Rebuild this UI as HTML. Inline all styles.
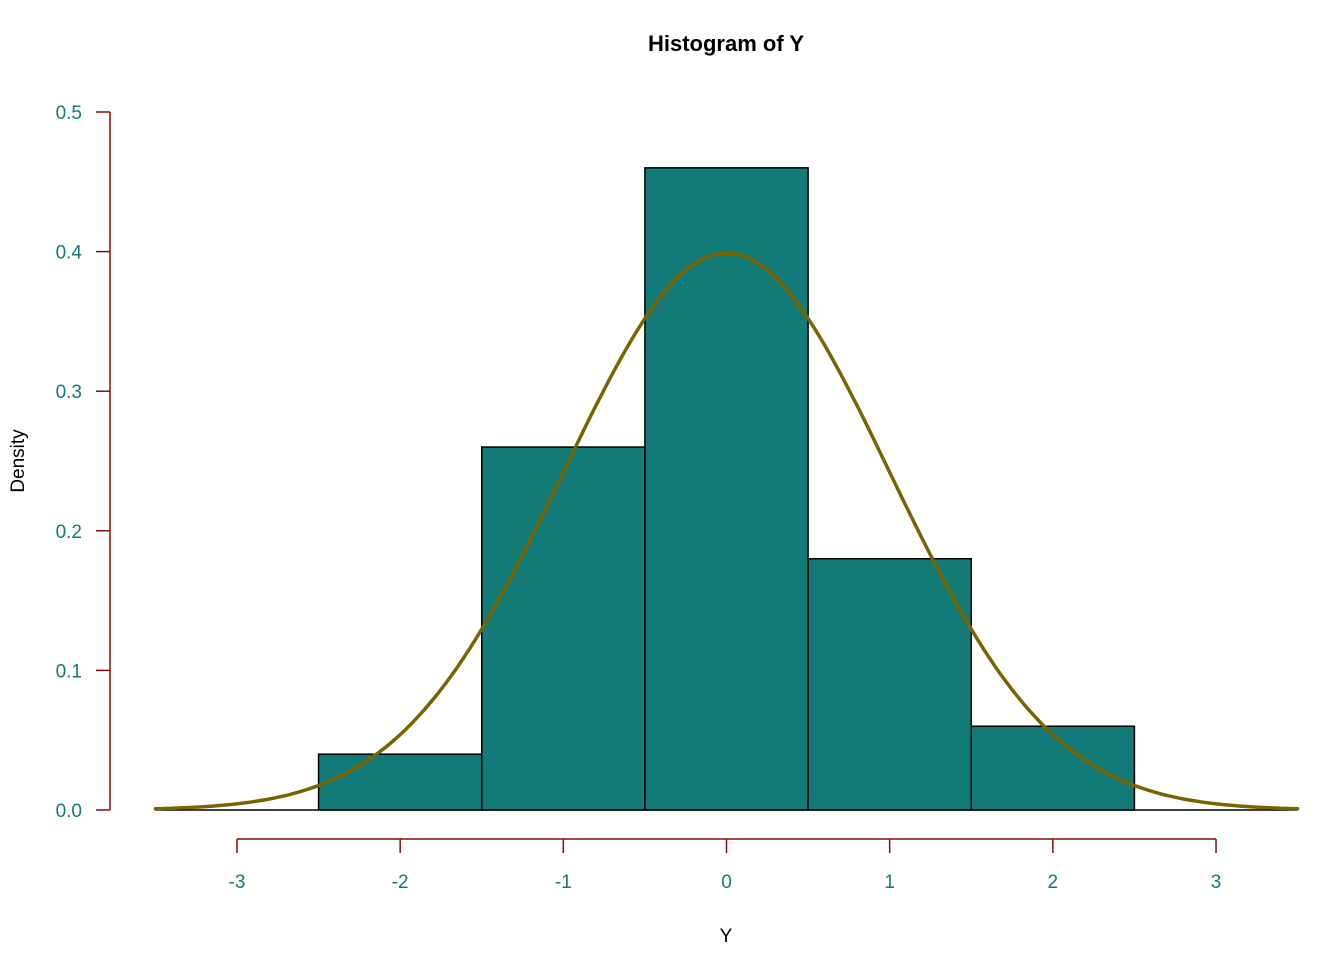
<!DOCTYPE html>
<html><head><meta charset="utf-8"><style>
body{margin:0;background:#fff}
svg{font-family:"Liberation Sans",Arial,sans-serif}
</style></head><body>
<svg id="c" width="1344" height="960">
<text x="726" y="51" text-anchor="middle" font-size="22" font-weight="bold">Histogram of Y</text>
<text x="726" y="942" text-anchor="middle" font-size="19">Y</text>
<text transform="translate(24,461) rotate(-90)" text-anchor="middle" font-size="19">Density</text>
<g id="bars"></g><g id="axes"></g>
</svg>
<script>
const binStarts=[-2.5,-1.5,-0.5,0.5,1.5];
const binWidth=1;
const densities=[0.04,0.26,0.46,0.18,0.06];
const xTicks=[-3,-2,-1,0,1,2,3];
const yTicks=[0,0.1,0.2,0.3,0.4,0.5];
const yTickLabels=["0.0","0.1","0.2","0.3","0.4","0.5"];
const curveMean=[0];
const curveSd=[1];
const curveRange=[-3.5,3.5];
const X=v=>726.5+v*163.17, Y=v=>810-v*1396;
const NS="http://www.w3.org/2000/svg", svg=document.getElementById('c');
function mk(t,a,p){const e=document.createElementNS(NS,t);for(const k in a)e.setAttribute(k,a[k]);(p||svg).appendChild(e);return e;}
const bars=document.getElementById('bars');
binStarts.forEach((s,i)=>{
 const r=mk('rect',{x:X(s),y:Y(densities[i]),width:X(s+binWidth)-X(s),height:Y(0)-Y(densities[i]),fill:'#127b78',stroke:'#000','stroke-width':1.5},bars);
 
 
});
const base=mk('line',{x1:X(curveRange[0]),x2:X(curveRange[1]),y1:Y(0),y2:Y(0),stroke:'#000','stroke-width':1.5});


let pts=[];const m=curveMean[0],sd=curveSd[0];
for(let k=0;k<=200;k++){const x=curveRange[0]+(curveRange[1]-curveRange[0])*k/200;
 const y=Math.exp(-0.5*((x-m)/sd)**2)/(sd*Math.sqrt(2*Math.PI));pts.push(X(x).toFixed(1)+','+Y(y).toFixed(1));}
const cur=mk('polyline',{points:pts.join(' '),fill:'none',stroke:'#7a6400','stroke-width':3.5,'stroke-linecap':'round'});


const ax=document.getElementById('axes');
const ya=mk('line',{x1:110,x2:110,y1:Y(0.5),y2:Y(0),stroke:'#8b0a0a','stroke-width':1.5},ax);


yTicks.forEach((v,i)=>{
 mk('line',{x1:96,x2:110,y1:Y(v),y2:Y(v),stroke:'#8b0a0a','stroke-width':1.5},ax);
 const t=mk('text',{x:82,y:Y(v)+7,'text-anchor':'end','font-size':19,fill:'#127b78'},ax);t.textContent=yTickLabels[i];
 
 
});
const xa=mk('line',{x1:X(xTicks[0]),x2:X(xTicks[xTicks.length-1]),y1:839,y2:839,stroke:'#8b0a0a','stroke-width':1.5},ax);


xTicks.forEach(v=>{
 mk('line',{x1:X(v),x2:X(v),y1:839,y2:853,stroke:'#8b0a0a','stroke-width':1.5},ax);
 const t=mk('text',{x:X(v),y:888,'text-anchor':'middle','font-size':19,fill:'#127b78'},ax);t.textContent=String(v);
 
 
});
</script>
</body></html>
